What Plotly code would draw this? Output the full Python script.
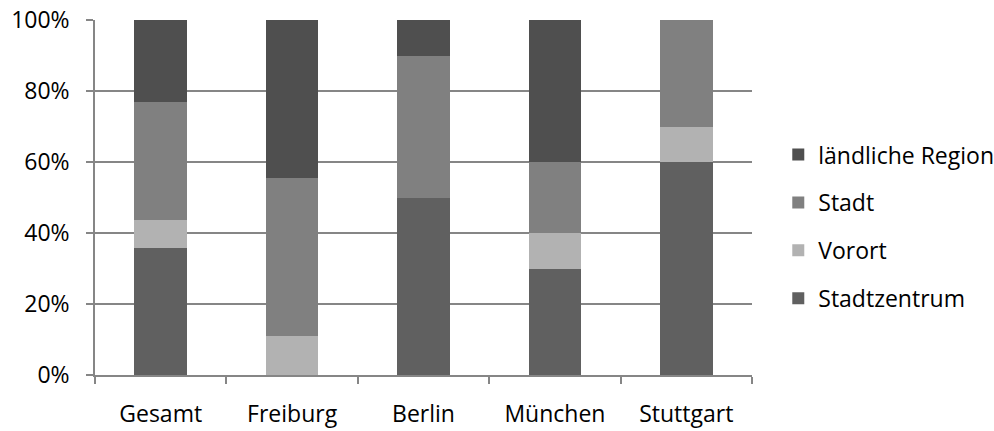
import plotly.graph_objects as go

# Respondent counts per location type (stacked, normalised to 100 % per city)
cities = ["Gesamt", "Freiburg", "Berlin", "München", "Stuttgart"]
stadtzentrum = [14, 0, 5, 3, 6]
vorort = [3, 1, 0, 1, 1]
stadt = [13, 4, 4, 2, 3]
laendlich = [9, 4, 1, 4, 0]

y_ticks = [0, 20, 40, 60, 80, 100]
y_labels = ["0%", "20%", "40%", "60%", "80%", "100%"]

series = [
    ("Stadtzentrum", stadtzentrum, "#606060", 4),
    ("Vorort", vorort, "#b2b2b2", 3),
    ("Stadt", stadt, "#808080", 2),
    ("ländliche Region", laendlich, "#4f4f4f", 1),
]

fig = go.Figure()
for name, vals, color, rank in series:
    fig.add_trace(go.Bar(
        x=cities, y=vals, name=name, legendgroup=name, legendrank=rank,
        marker=dict(color=color, line=dict(width=0)),
    ))

font = dict(family="Open Sans", size=23, color="#000000")
axis_grey = "#868686"

fig.update_layout(
    barmode="stack",
    barnorm="percent",
    bargap=0.6,
    width=994, height=431,
    margin=dict(l=95, r=242, t=20, b=56, autoexpand=False),
    paper_bgcolor="white",
    plot_bgcolor="white",
    font=font,
    legend=dict(
        x=1.04, xanchor="left", y=0.418, yanchor="middle", xref="paper",
        traceorder="grouped", tracegroupgap=15,
        font=font, bgcolor="rgba(0,0,0,0)",
    ),
    xaxis=dict(
        showline=True, linecolor=axis_grey, linewidth=1.5,
        ticks="outside", tickson="boundaries", ticklen=7,
        tickcolor=axis_grey, tickwidth=1.5, ticklabelstandoff=18,
        showgrid=False, fixedrange=True, automargin=False,
    ),
    yaxis=dict(
        range=[0, 100], tickvals=y_ticks, ticktext=y_labels,
        showline=True, linecolor=axis_grey, linewidth=1.5,
        ticks="outside", ticklen=7, tickcolor=axis_grey, tickwidth=1.5,
        ticklabelstandoff=12,
        showgrid=True, gridcolor=axis_grey, gridwidth=1.5,
        zeroline=False, fixedrange=True, automargin=False,
    ),
)

fig.write_html("out.html")
